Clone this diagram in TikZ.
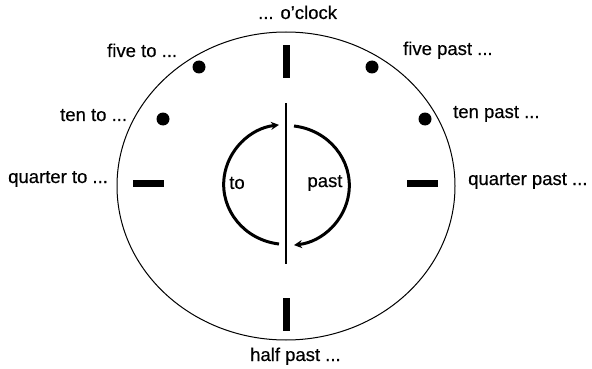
\documentclass[tikz,border=0pt]{standalone}
\usepackage{fontspec}
\setmainfont{Liberation Sans}
\newfontfamily\labfont[FakeBold=0.4]{Liberation Sans}
\usetikzlibrary{arrows.meta,shapes.geometric}
\begin{document}
\begin{tikzpicture}[x=1pt,y=-1pt,
  lbl/.style={inner sep=0pt,anchor=base west,font=\labfont\fontsize{18.5}{22}\selectfont},
  tickv/.style={fill=black,draw=none,minimum width=7pt,minimum height=33pt,inner sep=0pt},
  tickh/.style={fill=black,draw=none,minimum width=31pt,minimum height=7pt,inner sep=0pt},
  dotmark/.style={circle,fill=black,draw=none,minimum size=13pt,inner sep=0pt},
  arcline/.style={line width=3pt},
  tip/.style={-{Stealth[length=8pt,width=8pt]}}]
\useasboundingbox (0,0) rectangle (592,369);
\node[draw=black,line width=1pt,ellipse,minimum width=338pt,minimum height=308pt,inner sep=0pt] (clock) at (286,186) {};
% ticks
\node[tickv] (t12) at (286,62) {};
\node[tickv] (t6) at (286,314) {};
\node[tickh] (t9) at (148,183) {};
\node[tickh] (t3) at (422,183) {};
% dots
\node[dotmark] (d55) at (199,67) {};
\node[dotmark] (d5) at (372,67) {};
\node[dotmark] (d50) at (163,119) {};
\node[dotmark] (d10) at (425,119) {};
% center line
\coordinate (ltop) at (286,103);
\coordinate (lbot) at (286,264);
\draw[line width=2.6pt] (ltop) -- (lbot);
% arcs
\coordinate (lstart) at (279,244);
\coordinate (rstart) at (294,126);
\draw[arcline,tip] (lstart) arc[start angle=97,end angle=263,x radius=63,y radius=60];
\draw[arcline,tip] (rstart) arc[start angle=-83,end angle=83,x radius=63,y radius=60];
\node[inner sep=0pt,font=\labfont\fontsize{18.5}{22}\selectfont] (to) at (237,183) {to};
\node[inner sep=0pt,font=\labfont\fontsize{18.5}{22}\selectfont] (past) at (325,183) {past};
% labels
\node[lbl] (oc) at (258,19) {... o’clock};
\node[lbl] (hp) at (250,361) {half past ...};
\node[lbl] (fto) at (107,57) {five to ...};
\node[lbl] (fp) at (403,55) {five past ...};
\node[lbl] (tto) at (60,121) {ten to ...};
\node[lbl] (tp) at (453,118) {ten past ...};
\node[lbl] (qto) at (8,183) {quarter to ...};
\node[lbl] (qp) at (468,185) {quarter past ...};
\end{tikzpicture}
\end{document}
